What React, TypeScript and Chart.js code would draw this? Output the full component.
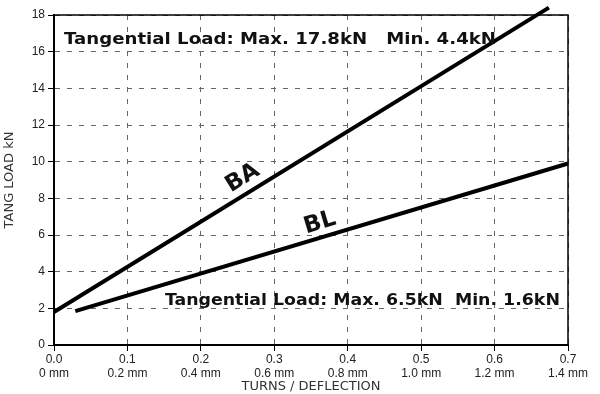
import React, { useEffect, useRef } from "react";
import { Chart, registerables } from "chart.js";

Chart.register(...registerables);

const turnsLabels = ["0.0", "0.1", "0.2", "0.3", "0.4", "0.5", "0.6", "0.7"];
const mmLabels = ["0 mm", "0.2 mm", "0.4 mm", "0.6 mm", "0.8 mm", "1.0 mm", "1.2 mm", "1.4 mm"];
const baX = [0, 0.674];
const baY = [1.8, 18.4];
const blX = [0.029, 0.7];
const blY = [1.85, 9.9];
const note1 = "Tangential Load: Max. 17.8kN   Min. 4.4kN";
const note2 = "Tangential Load: Max. 6.5kN  Min. 1.6kN";

function fitText(ctx: any, text: string, x0: number, x1: number, y: number) {
  const w = ctx.measureText(text).width;
  const sx = (x1 - x0) / w;
  ctx.save();
  ctx.translate(x0, y);
  ctx.scale(sx, 1);
  ctx.fillText(text, 0, 0);
  ctx.restore();
}

const overlay = {
  id: "overlay",
  afterDraw(chart: any) {
    const { ctx, chartArea, scales } = chart;
    const xs = scales.x;
    const ys = scales.y;
    ctx.save();
    ctx.strokeStyle = "#000";
    ctx.lineWidth = 1.5;
    ctx.strokeRect(chartArea.left, chartArea.top, chartArea.right - chartArea.left, chartArea.bottom - chartArea.top);
    ctx.fillStyle = "#111";
    ctx.textBaseline = "alphabetic";
    ctx.textAlign = "left";
    ctx.font = "bold 16.5px 'DejaVu Sans'";
    fitText(ctx, note1, xs.getPixelForValue(0.0136), xs.getPixelForValue(0.602), ys.getPixelForValue(16.42));
    fitText(ctx, note2, xs.getPixelForValue(0.151), xs.getPixelForValue(0.689), ys.getPixelForValue(2.18));
    ctx.textAlign = "center";
    ctx.textBaseline = "middle";
    ctx.font = "bold 23px 'DejaVu Sans'";
    ctx.save();
    ctx.translate(xs.getPixelForValue(0.257), ys.getPixelForValue(9.1));
    ctx.rotate((-32 * Math.PI) / 180);
    ctx.fillText("BA", 0, 0);
    ctx.restore();
    ctx.save();
    ctx.translate(xs.getPixelForValue(0.362), ys.getPixelForValue(6.65));
    ctx.rotate((-17 * Math.PI) / 180);
    ctx.fillText("BL", 0, 0);
    ctx.restore();
    ctx.restore();
  },
};

export default function App() {
  const ref = useRef<HTMLCanvasElement>(null);
  useEffect(() => {
    document.body.style.margin = "0";
    const chart = new Chart(ref.current!, {
      type: "line",
      data: {
        datasets: [
          {
            label: "BA",
            data: baX.map((x, i) => ({ x, y: baY[i] })),
            borderColor: "#000",
            borderWidth: 4,
            pointRadius: 0,
            clip: false,
          } as any,
          {
            label: "BL",
            data: blX.map((x, i) => ({ x, y: blY[i] })),
            borderColor: "#000",
            borderWidth: 4,
            pointRadius: 0,
            clip: false,
          } as any,
        ],
      },
      options: {
        animation: false,
        responsive: false,
        layout: { padding: { left: 2, right: 32, top: 15, bottom: 0 } },
        plugins: { legend: { display: false }, tooltip: { enabled: false } },
        scales: {
          x: {
            type: "linear",
            min: 0,
            max: 0.7,
            afterFit: (s: any) => {
              s.height = 49;
            },
            afterBuildTicks: (s: any) => {
              s.ticks = turnsLabels.map((_, i) => ({ value: i / 10 }));
            },
            ticks: {
              autoSkip: false,
              maxRotation: 0,
              color: "#222",
              font: { family: "'Liberation Sans'", size: 12 },
              padding: 1,
              callback: (_v: any, i: number) => [turnsLabels[i], mmLabels[i]],
            },
            grid: {
              color: "#666",
              lineWidth: 1,
              tickLength: 6,
              tickColor: "#000",
              drawTicks: true,
            },
            border: { color: "#000", width: 2, dash: [5, 7] } as any,
            title: {
              display: true,
              text: "TURNS / DEFLECTION",
              color: "#333",
              font: { family: "'DejaVu Sans'", size: 13 },
              padding: { top: 0, bottom: 0 },
            },
          },
          y: {
            type: "linear",
            min: 0,
            max: 18,
            afterFit: (s: any) => {
              s.width = 52;
            },
            ticks: {
              stepSize: 2,
              color: "#222",
              font: { family: "'Liberation Sans'", size: 12 },
              padding: 3,
            },
            grid: {
              color: "#666",
              lineWidth: 1,
              tickLength: 6,
              tickColor: "#000",
            },
            border: { color: "#000", width: 2, dash: [5, 7] } as any,
            title: {
              display: true,
              text: "TANG LOAD kN",
              color: "#333",
              font: { family: "'DejaVu Sans'", size: 13 },
              padding: { top: 0, bottom: 1 },
            },
          },
        },
      },
      plugins: [overlay],
    });
    return () => chart.destroy();
  }, []);
  return (
    <div style={{ width: 600, height: 394, background: "#fff" }}>
      <canvas ref={ref} width={600} height={394} />
    </div>
  );
}
